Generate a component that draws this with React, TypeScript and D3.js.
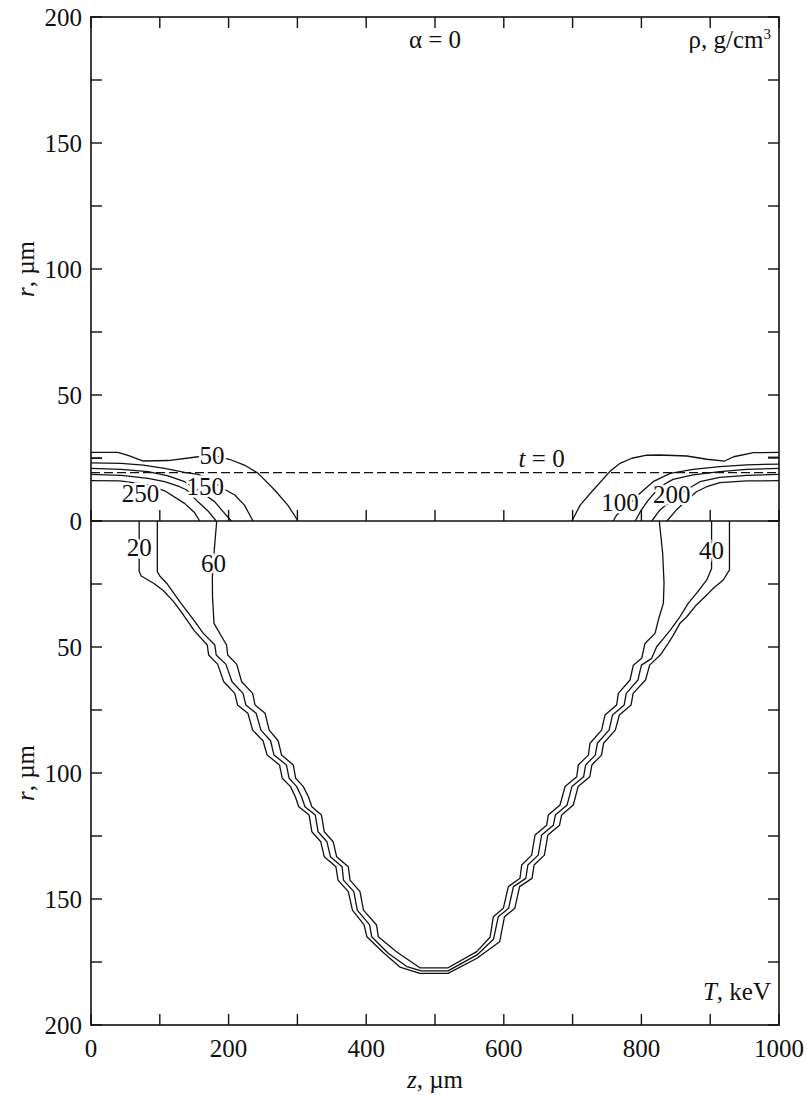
import React from "react";
import * as d3 from "d3";

// ---------- data (z in µm, r in µm) ----------
const Z_MAJOR = [0, 200, 400, 600, 800, 1000];
const Z_MINOR = [100, 300, 500, 700, 900];
const R_MAJOR = [0, 50, 100, 150, 200];
const R_MINOR = [25, 75, 125, 175];

// density contours (upper panel), g/cm^3
const RHO50_L: [number, number][] = [[0,27.2],[39,27.2],[56,25.8],[76,23.8],[112,24],[156,25.5],[178,26],[201,24.5],[223,22.2],[243,18.9],[267,12.3],[286,6.3],[301,0]];
const RHO50_STUB_L: [number, number][] = [[0,24.9],[16,24.9]];
const RHO100_L: [number, number][] = [[0,23.1],[44,22.9],[76,22.2],[107,20.9],[136,19.3],[156,18.5],[175,16],[194,12.6],[209,10.3],[223,6.3],[235.5,0]];
const RHO150_L: [number, number][] = [[0,20.9],[44,20.5],[83,19.6],[112,17.9],[136,15.6],[160,11.5],[180,7.6],[192,3.7],[204,0]];
const RHO200_L: [number, number][] = [[0,18.5],[44,18.1],[83,16.9],[107,15.6],[129,13.6],[139,12.3],[155.5,7.6],[170,4],[182,0]];
const RHO250_L: [number, number][] = [[0,16],[42,15.9],[80,14.5],[107,12],[136,7],[150,3.5],[158,0]];

const RHO50_R: [number, number][] = [[1000,27.2],[963,27.1],[934,25.5],[921,23.8],[895,24.5],[866,25.8],[827,26.2],[808,26.1],[786,24.9],[769,22.9],[754,19.6],[730,12.3],[711,6.3],[699,0]];
const RHO50_STUB_R: [number, number][] = [[984,25.3],[1000,25.3]];
const RHO100_R: [number, number][] = [[1000,22.6],[953,22.3],[914,21.6],[875,20.5],[842,18.9],[817,15.6],[798,11],[780,6],[764,2.4],[759,0]];
const RHO150_R: [number, number][] = [[1000,20.9],[953,20.5],[914,19.6],[875,18.3],[846,16.5],[827,13.6],[810,8.3],[800,4.4],[791,0]];
const RHO200_R: [number, number][] = [[1000,18.5],[953,18.1],[914,17.3],[885,15.6],[873,13.6],[850,9.5],[827,4.4],[815,0]];
const RHO250_R: [number, number][] = [[1000,16],[953,15.9],[914,15.2],[895,13.6],[880,11.6],[865,8],[851,4.4],[837,0]];

const T0_R = 19.2; // initial boundary, t = 0

// temperature contours (lower panel), keV
const T20: [number, number][] = [[70,0],[70,20],[73,21.8],[91,24.7],[105,27.6],[120,32],[129,35.3],[140,39.5],[150,43.5],[169,49.2],[171,53.2],[184,56.8],[193,63.8],[209,68.4],[213,73],[228,76.3],[235,83],[250,87.2],[256,92.9],[274,96.8],[278,102.1],[290,105.4],[297,109.4],[302,113.4],[317,116.7],[321,123.3],[334,127.3],[339,133.2],[356,137.2],[359,142.5],[374,147.1],[380,154.4],[397,160.3],[401,165],[424,171],[449,177],[478,179.5],[519,179.5],
  [561,173.5],[594,167],[601,157],[616,153.7],[623,145.1],[641,141.8],[644,136.5],[659,132.6],[664,124.6],[681,120.7],[684,116.7],[701,112.7],[708,105.4],[725,101.5],[728,96.8],[742,92.9],[745,88.2],[762,83],[768,77],[785,73],[788,68.4],[806,63.1],[812,57.2],[828,53],[838,49],[846,45.5],[856,40.6],[866,38],[880,33.3],[895,29.4],[904.5,26.7],[919,23.4],[928,19.4],[928,0]];
const T40: [number, number][] = [[96.4,0],[96.4,20.1],[100,21.8],[110,24.7],[120,28.5],[129,32],[140,36],[150,39.5],[163,44.5],[180,49.2],[182,53.2],[196,56.8],[205,63.8],[221,68.4],[225,73],[240,76.3],[247,83],[261,87.2],[266,92.9],[284,96.8],[288,102.1],[299,105.4],[306,109.4],[311,113.4],[326,116.7],[330,123.3],[343,127.3],[348,133.2],[365,137.2],[367,142.5],[382,147.1],[387,154.4],[405,160.3],[408,165],[432,171.5],[459,176.8],[480,178.5],[519,178.5],
  [561,172.2],[585,166],[592,157],[607,153.7],[614,145.1],[632,141.8],[635,136.5],[650,132.6],[655,124.6],[672,120.7],[675,116.7],[692,112.7],[699,105.4],[716,101.5],[719,96.8],[733,92.9],[736,88.2],[753,83],[758,77],[775,73],[778,68.4],[795,63.1],[800,57.2],[815,54.5],[822,50],[834,46],[842,43.3],[856,38],[868,32.7],[880,28.7],[895,23.4],[902,18.8],[902,0]];
const T60: [number, number][] = [[182.7,0],[178.4,14.2],[176.4,22],[176.6,30],[178.8,40.6],[197,49.2],[198.7,53.2],[211.7,56.8],[219,63.8],[235,68.4],[238.4,73],[253,76.3],[259,83],[272,87.2],[277,92.9],[294,96.8],[297.5,102.1],[308.6,105.4],[316,109.4],[321,113.4],[335,116.7],[339,123.3],[352,127.3],[357,133.2],[374,137.2],[376.5,142.5],[391,147.1],[396,154.4],[415,160.3],[417.6,165],[444,170.9],[478,177.3],[519,177.3],
  [560.6,170.9],[580,165.2],[584.8,157],[599.3,153.7],[606.6,145.1],[623.5,141.8],[626,136.5],[640.5,132.6],[645.4,124.6],[662.3,120.7],[664.7,116.7],[681.7,112.7],[689,105.4],[706,101.5],[708.3,96.8],[722.9,92.9],[725.3,88.2],[742.2,83],[747.1,77],[764,73],[766.5,68.4],[783.4,63.1],[788.3,57.2],[800.4,54.5],[805.2,48.6],[819.8,44.6],[824.6,39.3],[831.9,32.7],[832.9,24.7],[830.9,12.8],[826,0]];

const RHO_LABELS = [
  { text: "50", z: 176, r: 25.9 },
  { text: "150", z: 166, r: 13.6 },
  { text: "250", z: 72, r: 11 },
  { text: "100", z: 769, r: 7.3 },
  { text: "200", z: 844, r: 10.7 },
];
const T_LABELS = [
  { text: "20", z: 70, r: 10.7 },
  { text: "60", z: 178, r: 16.7 },
  { text: "40", z: 902, r: 11.9 },
];

const W = 807, H = 1095;
const L = 91, R = 779, TOP = 17, MID = 521, BOT = 1025;
const FONT = "Liberation Serif";

export default function App() {
  const x = d3.scaleLinear().domain([0, 1000]).range([L, R]);
  const yT = d3.scaleLinear().domain([0, 200]).range([MID, TOP]);
  const yB = d3.scaleLinear().domain([0, 200]).range([MID, BOT]);
  const lineT = d3.line<[number, number]>().x(d => x(d[0])).y(d => yT(d[1]));
  const lineB = d3.line<[number, number]>().x(d => x(d[0])).y(d => yB(d[1]));

  const topContours = [RHO50_L, RHO50_STUB_L, RHO100_L, RHO150_L, RHO200_L, RHO250_L,
    RHO50_R, RHO50_STUB_R, RHO100_R, RHO150_R, RHO200_R, RHO250_R];
  const botContours = [T20, T40, T60];
  const tl = 11;
  const fs = 25;

  return (
    <svg width={W} height={H} fontFamily={FONT} style={{ display: "block", position: "absolute", left: 0, top: 0, background: "#fff" }}>
      <rect x={0} y={0} width={W} height={H} fill="#fff" />
      <g fill="none" stroke="#111" strokeWidth={1.3} strokeLinejoin="round">
        {topContours.map((c, i) => <path key={"t" + i} d={lineT(c) || ""} />)}
        {botContours.map((c, i) => <path key={"b" + i} d={lineB(c) || ""} />)}
      </g>
      <line x1={L} x2={R} y1={yT(T0_R)} y2={yT(T0_R)} stroke="#111" strokeWidth={1.3} strokeDasharray="9,4" />
      {/* contour labels */}
      <g fontFamily={FONT} fontSize={fs} textAnchor="middle" fill="#111" stroke="#fff" strokeWidth={5} paintOrder="stroke" dominantBaseline="central">
        {RHO_LABELS.map((l, i) => <text key={"rl" + i} x={x(l.z)} y={yT(l.r)}>{l.text}</text>)}
        {T_LABELS.map((l, i) => <text key={"tl" + i} x={x(l.z)} y={yB(l.r)}>{l.text}</text>)}
      </g>
      {/* frame */}
      <g stroke="#111" strokeWidth={1.6} fill="none">
        <rect x={L} y={TOP} width={R - L} height={BOT - TOP} />
        <line x1={L} x2={R} y1={MID} y2={MID} />
      </g>
      {/* ticks */}
      <g stroke="#111" strokeWidth={1.4}>
        {[...Z_MAJOR, ...Z_MINOR].map(z => (
          <g key={"zt" + z}>
            <line x1={x(z)} x2={x(z)} y1={TOP} y2={TOP + tl} />
            <line x1={x(z)} x2={x(z)} y1={MID} y2={MID - tl} />
            <line x1={x(z)} x2={x(z)} y1={BOT} y2={BOT - tl} />
          </g>
        ))}
        {[...R_MAJOR, ...R_MINOR].map(r => (
          <g key={"rt" + r}>
            <line x1={L} x2={L + tl} y1={yT(r)} y2={yT(r)} />
            <line x1={R} x2={R - tl} y1={yT(r)} y2={yT(r)} />
            <line x1={L} x2={L + tl} y1={yB(r)} y2={yB(r)} />
            <line x1={R} x2={R - tl} y1={yB(r)} y2={yB(r)} />
          </g>
        ))}
      </g>
      {/* tick labels */}
      <g fontFamily={FONT} fontSize={fs} fill="#111">
        {R_MAJOR.map(r => <text key={"ly" + r} x={L - 9} y={yT(r)} textAnchor="end" dominantBaseline="central">{r}</text>)}
        {R_MAJOR.filter(r => r > 0).map(r => <text key={"lyb" + r} x={L - 9} y={yB(r)} textAnchor="end" dominantBaseline="central">{r}</text>)}
        {Z_MAJOR.map(z => <text key={"lx" + z} x={x(z)} y={BOT + 32} textAnchor="middle">{z}</text>)}
      </g>
      {/* axis titles */}
      <g fontFamily={FONT} fontSize={fs} fill="#111">
        <text x={x(500)} y={1088} textAnchor="middle"><tspan fontStyle="italic">z</tspan>, µm</text>
        <text transform={`translate(34,${yT(100)}) rotate(-90)`} textAnchor="middle"><tspan fontStyle="italic">r</tspan>, µm</text>
        <text transform={`translate(34,${yB(100)}) rotate(-90)`} textAnchor="middle"><tspan fontStyle="italic">r</tspan>, µm</text>
        <text x={x(500)} y={48} textAnchor="middle">α = 0</text>
        <text x={771} y={48} textAnchor="end">ρ, g/cm<tspan fontSize={15} dy={-9}>3</tspan></text>
        <text x={x(655)} y={467} textAnchor="middle" stroke="#fff" strokeWidth={5} paintOrder="stroke"><tspan fontStyle="italic">t</tspan> = 0</text>
        <text x={771} y={1000} textAnchor="end"><tspan fontStyle="italic">T</tspan>, keV</text>
      </g>
    </svg>
  );
}
